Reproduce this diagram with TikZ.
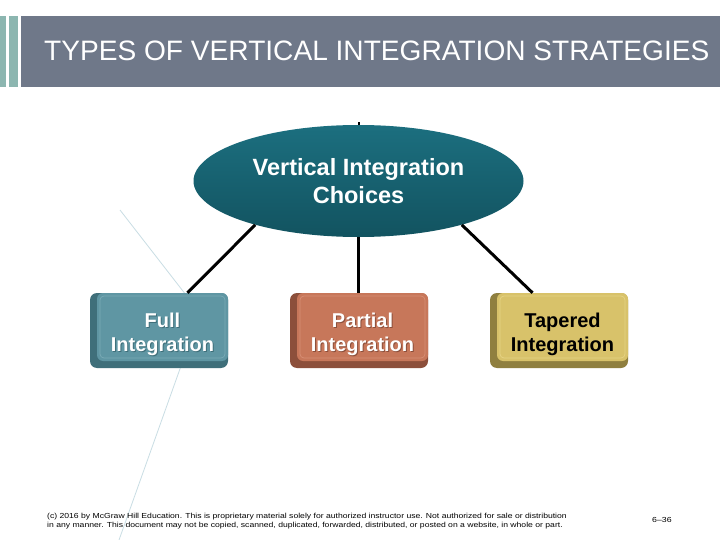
\documentclass[tikz,border=0pt]{standalone}
\usepackage{fontspec}
\setmainfont{Liberation Sans}
\usetikzlibrary{shapes.geometric}
\definecolor{barcol}{HTML}{6F7889}
\definecolor{stripcol}{HTML}{8CB6B0}
\definecolor{fullface}{HTML}{5F96A3}
\definecolor{fulldark}{HTML}{3F6F7A}
\definecolor{fulllight}{HTML}{7AAAB6}
\definecolor{partface}{HTML}{C7775A}
\definecolor{partdark}{HTML}{8C4F3B}
\definecolor{partlight}{HTML}{D78F75}
\definecolor{tapface}{HTML}{D8C26A}
\definecolor{tapdark}{HTML}{8F7F3F}
\definecolor{taplight}{HTML}{E6D385}
\definecolor{elltop}{HTML}{1C6F7F}
\definecolor{ellbot}{HTML}{125360}
\definecolor{decocol}{HTML}{C9DDE4}
\tikzset{
  boxtext/.style={minimum width=131pt, minimum height=68pt, inner sep=0pt, align=center,
    font=\bfseries\fontsize{20}{24}\selectfont},
  conn/.style={draw=black, line width=3pt},
  deco/.style={draw=decocol, line width=0.8pt},
  foottext/.style={inner sep=0pt, font=\fontsize{7.3}{8.6}\selectfont},
}
\newcommand\mybevbox[9]{%
  \fill[#5, rounded corners=7pt] (#2,#3) rectangle ++(138,75);
  \fill[#4, rounded corners=6pt] (#2+7,#3) rectangle ++(131,68);
  \draw[#6, line width=0.7pt, rounded corners=4pt] (#2+10,#3+3) rectangle ++(125,62);
  \node[boxtext, text=#8] at (#2+73.5,#3+42.5) {#9};
  \node[boxtext, text=#7] (#1) at (#2+72.5,#3+41.5) {#9};
}
\begin{document}
\begin{tikzpicture}[x=1pt, y=-1pt]
\useasboundingbox (0,0) rectangle (720,540);
\fill[white] (0,0) rectangle (720,540);
% title bar
\fill[stripcol] (0,16) rectangle (6,87);
\fill[stripcol] (9,16) rectangle (18,87);
\fill[barcol] (21,16) rectangle (720,87);
\node[anchor=west, text=white, inner sep=0pt, font=\fontsize{28.1}{30}\selectfont] (title) at (44,51) {TYPES OF VERTICAL INTEGRATION STRATEGIES};
% decorative line
\draw[deco] (120,210) -- (186,295) -- (181,366) -- (119,540);
% root ellipse
\node[ellipse, minimum width=330pt, minimum height=112pt, inner sep=0pt,
  top color=elltop, bottom color=ellbot, draw=none, text=white, align=center,
  font=\bfseries\fontsize{23.5}{28}\selectfont] (root) at (358.5,181) {Vertical Integration\\Choices};
% boxes
\mybevbox{full}{90}{293}{fullface}{fulldark}{fulllight}{white}{fulldark}{Full\\Integration}
\mybevbox{partial}{290}{293}{partface}{partdark}{partlight}{white}{partdark}{Partial\\Integration}
\mybevbox{tapered}{490}{293}{tapface}{tapdark}{taplight}{black}{tapface}{Tapered\\Integration}
% connectors
\draw[conn] (root.203.4) -- ([xshift=25pt,yshift=7.5pt]full.north);
\draw[conn] (root.south) -- ([yshift=7.5pt]root.south |- partial.north);
\draw[conn] (root.-23.4) -- ([xshift=-30pt,yshift=7.5pt]tapered.north);
\draw[line width=2pt] (root.north) -- ++(0,-3);
% footer
\node[foottext, anchor=north west, align=left] (foot) at (47,513)
  {\scalebox{1.18}[1]{(c) 2016 by McGraw Hill Education. This is proprietary material solely for authorized instructor use. Not authorized for sale or distribution}\\
   \scalebox{1.18}[1]{in any manner. This document may not be copied, scanned, duplicated, forwarded, distributed, or posted on a website, in whole or part.}};
\node[foottext, anchor=west] (page) at (652,520) {\scalebox{1.2}[1]{6–36}};
\end{tikzpicture}
\end{document}
